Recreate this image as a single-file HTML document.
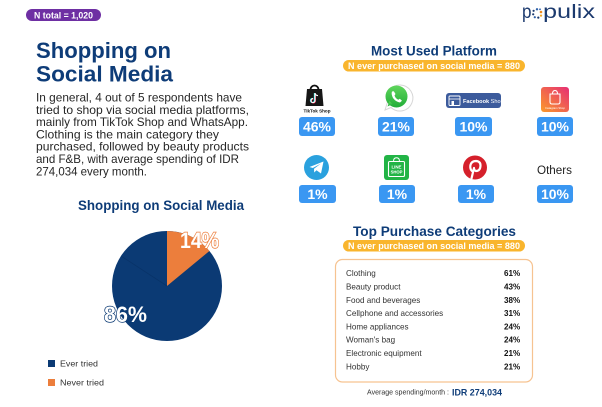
<!DOCTYPE html>
<html>
<head>
<meta charset="utf-8">
<style>
  html,body{margin:0;padding:0;background:#fff;}
  body{width:602px;height:407px;overflow:hidden;position:relative;}
  svg{position:absolute;left:0;top:0;}
  text{font-family:"Liberation Sans","DejaVu Sans",sans-serif;}
</style>
</head>
<body>
<svg width="602" height="407" viewBox="0 0 602 407" xmlns="http://www.w3.org/2000/svg">
  <defs>
    <linearGradient id="ig" x1="0" y1="1" x2="1" y2="0">
      <stop offset="0" stop-color="#fb9a2b"/>
      <stop offset="1" stop-color="#e62e74"/>
    </linearGradient>
    <linearGradient id="wa" x1="0" y1="0" x2="0" y2="1">
      <stop offset="0" stop-color="#5fd65c"/>
      <stop offset="1" stop-color="#22ad38"/>
    </linearGradient>
  </defs>

  <!-- N total badge -->
  <rect x="26" y="9" width="75" height="12" rx="6" fill="#6e2fa3"/>
  <text x="63.5" y="18.3" font-size="9" font-weight="bold" fill="#fff" text-anchor="middle" textLength="59" lengthAdjust="spacingAndGlyphs">N total = 1,020</text>

  <!-- Title -->
  <text x="36" y="58" font-size="22" font-weight="bold" fill="#0e3c78" textLength="135" lengthAdjust="spacingAndGlyphs">Shopping on</text>
  <text x="36" y="81.5" font-size="22" font-weight="bold" fill="#0e3c78" textLength="137" lengthAdjust="spacingAndGlyphs">Social Media</text>

  <!-- Paragraph -->
  <g font-size="11.6" fill="#262626">
    <text x="36" y="101.5" textLength="206" lengthAdjust="spacingAndGlyphs">In general, 4 out of 5 respondents have</text>
    <text x="36" y="113.8" textLength="213" lengthAdjust="spacingAndGlyphs">tried to shop via social media platforms,</text>
    <text x="36" y="126.1" textLength="212" lengthAdjust="spacingAndGlyphs">mainly from TikTok Shop and WhatsApp.</text>
    <text x="36" y="138.4" textLength="183" lengthAdjust="spacingAndGlyphs">Clothing is the main category they</text>
    <text x="36" y="150.7" textLength="213" lengthAdjust="spacingAndGlyphs">purchased, followed by beauty products</text>
    <text x="36" y="163.0" textLength="203" lengthAdjust="spacingAndGlyphs">and F&amp;B, with average spending of IDR</text>
    <text x="36" y="175.3" textLength="111" lengthAdjust="spacingAndGlyphs">274,034 every month.</text>
  </g>

  <!-- Pie subtitle -->
  <text x="161" y="209.8" font-size="13.5" font-weight="bold" fill="#0e3c78" text-anchor="middle" textLength="166" lengthAdjust="spacingAndGlyphs">Shopping on Social Media</text>

  <!-- Pie -->
  <circle cx="167" cy="286" r="55" fill="#0b3a74"/>
  <path d="M167,286 L167,231 A55,55 0 0 1 209.4,251 Z" fill="#ec7e3c"/>
  <line x1="167" y1="286" x2="121" y2="256" stroke="#072f62" stroke-width="0.8" opacity="0.6"/>
  <text x="180" y="248" font-size="22" font-weight="bold" fill="#fff" stroke="#ec7e3c" stroke-width="1.4" paint-order="stroke" textLength="39" lengthAdjust="spacingAndGlyphs">14%</text>
  <text x="104" y="322" font-size="22" font-weight="bold" fill="#fff" stroke="#0b3a74" stroke-width="1.4" paint-order="stroke" textLength="43" lengthAdjust="spacingAndGlyphs">86%</text>

  <!-- Legend -->
  <rect x="48" y="360" width="7" height="7" fill="#0b3a74"/>
  <text x="60" y="366.5" font-size="8.5" fill="#333" textLength="38" lengthAdjust="spacingAndGlyphs">Ever tried</text>
  <rect x="48" y="379" width="7" height="7" fill="#ec7e3c"/>
  <text x="60" y="385.5" font-size="8.5" fill="#333" textLength="44" lengthAdjust="spacingAndGlyphs">Never tried</text>

  <!-- Logo -->
  <text x="522" y="18" font-size="19" fill="#1c3a6e" textLength="9.5" lengthAdjust="spacingAndGlyphs">p</text>
  <g>
    <circle cx="537" cy="9.3" r="1.2" fill="#2d5fa8"/>
    <circle cx="533.6" cy="10.8" r="1.1" fill="#1c3a6e"/>
    <circle cx="533.2" cy="14.3" r="1.1" fill="#1c3a6e"/>
    <circle cx="534.8" cy="17.2" r="1.1" fill="#2d5fa8"/>
    <circle cx="538.3" cy="17.6" r="1.1" fill="#1c3a6e"/>
    <circle cx="541" cy="15.6" r="1.1" fill="#f4a521"/>
    <circle cx="541" cy="12" r="1.3" fill="#f08a1c"/>
    <circle cx="540" cy="9.3" r="0.9" fill="#2d5fa8"/>
  </g>
  <text x="543" y="18" font-size="19" fill="#1c3a6e" textLength="52" lengthAdjust="spacingAndGlyphs">pulix</text>

  <!-- Most Used Platform -->
  <text x="434" y="55.5" font-size="13.5" font-weight="bold" fill="#0e3c78" text-anchor="middle" textLength="126" lengthAdjust="spacingAndGlyphs">Most Used Platform</text>
  <rect x="343" y="60" width="182" height="11.5" rx="5.75" fill="#f9b52d"/>
  <text x="434" y="69" font-size="9" font-weight="bold" fill="#fff" text-anchor="middle" textLength="172" lengthAdjust="spacingAndGlyphs">N ever purchased on social media = 880</text>

  <!-- TikTok Shop icon -->
  <path d="M310.5,90 C310.5,84 318.5,84 318.5,90" fill="none" stroke="#111" stroke-width="1.8"/>
  <path d="M307,89 L322,89 L323.5,106 L305.5,106 Z" fill="#161616"/>
  <path d="M314.5,93 L314.5,100.5 A2,2 0 1 1 312.6,98.5" fill="none" stroke="#25f4ee" stroke-width="1.3"/>
  <path d="M315.3,93.3 L315.3,100.8 A2,2 0 1 1 313.4,98.8" fill="none" stroke="#fe2c55" stroke-width="1.3"/>
  <path d="M315,93 L315,100.6 A2,2 0 1 1 313,98.6 M315,93.2 Q315.6,95.5 318,95.6" fill="none" stroke="#fff" stroke-width="1.1"/>
  <text x="317" y="112.5" font-size="4.6" font-weight="bold" fill="#111" text-anchor="middle" textLength="27" lengthAdjust="spacingAndGlyphs">TikTok Shop</text>

  <!-- WhatsApp icon -->
  <path d="M385,110 L387.5,102 A13,13 0 1 1 391,107.5 Z" fill="#fff" stroke="#d6d6d6" stroke-width="1"/>
  <circle cx="396.5" cy="96.5" r="11" fill="url(#wa)"/>
  <path d="M387.5,106.5 L389.5,101 L392.5,104 Z" fill="url(#wa)"/>
  <path d="M392,91.5 Q391,94 393,98 Q396,102 400,102.5 L402,100.8 L399.8,98.8 L398.3,99.8 Q395.5,98.5 394.5,95.5 L395.5,94 L393.8,91.2 Z" fill="#fff"/>

  <!-- Facebook Shop -->
  <rect x="446" y="93" width="55" height="15" rx="3" fill="#3c5b9c"/>
  <rect x="449" y="96" width="11" height="9.5" rx="1" fill="none" stroke="#fff" stroke-width="0.9"/>
  <line x1="449" y1="99" x2="460" y2="99" stroke="#fff" stroke-width="0.8"/>
  <rect x="451.5" y="101" width="2.5" height="4.5" fill="#fff"/>
  <text x="463" y="102.8" font-size="5.6" font-weight="bold" fill="#fff">Facebook <tspan font-weight="normal">Shop</tspan></text>

  <!-- Instagram Shop -->
  <rect x="541" y="87" width="28" height="25" rx="3" fill="url(#ig)"/>
  <path d="M550,94 L560,94 L560,102 Q560,104 558,104 L552,104 Q550,104 550,102 Z" fill="none" stroke="#fff" stroke-width="1.1"/>
  <path d="M552.5,94 Q552.5,90.5 555,90.5 Q557.5,90.5 557.5,94" fill="none" stroke="#fff" stroke-width="1"/>
  <text x="555" y="109" font-size="2.8" fill="#fff" text-anchor="middle">Instagram Shop</text>

  <!-- Row 1 badges -->
  <g fill="#3a97f2">
    <rect x="299" y="117" width="36" height="19" rx="3"/>
    <rect x="378" y="117" width="36" height="19" rx="3"/>
    <rect x="455" y="117" width="37" height="19" rx="3"/>
    <rect x="537" y="117" width="36" height="19" rx="3"/>
  </g>
  <g font-size="14" font-weight="bold" fill="#fff" text-anchor="middle">
    <text x="317" y="131.6">46%</text>
    <text x="396" y="131.6">21%</text>
    <text x="473.5" y="131.6">10%</text>
    <text x="555" y="131.6">10%</text>
  </g>

  <!-- Telegram -->
  <circle cx="316.5" cy="167.5" r="12.5" fill="#2aa1de"/>
  <path d="M309.5,167 L323.5,161.5 L321,173.5 L316.5,170.3 L314.2,172.5 L314,168.8 L321,163.5 L312.8,168 Z" fill="#fff"/>

  <!-- LINE SHOP -->
  <rect x="384" y="155" width="25" height="25" rx="3" fill="#22b446"/>
  <rect x="388.5" y="161.5" width="16" height="15" rx="1.2" fill="none" stroke="#fff" stroke-width="1.1"/>
  <path d="M393.5,161.5 Q393.5,157.8 396.5,157.8 Q399.5,157.8 399.5,161.5" fill="none" stroke="#fff" stroke-width="1"/>
  <text x="396.5" y="168.3" font-size="4.4" font-weight="bold" fill="#fff" text-anchor="middle">LINE</text>
  <text x="396.5" y="173.6" font-size="4.2" font-weight="bold" fill="#fff" text-anchor="middle">SHOP</text>

  <!-- Pinterest -->
  <circle cx="475" cy="167.5" r="12" fill="#d5202b"/>
  <path d="M471.5,178.5 L474,168 M472.8,171.5 Q470,170 470.3,166 Q471,161 476,161 Q480.5,161.3 480.5,165.5 Q480.3,171 476,171 Q474.5,170.8 474.2,169" fill="none" stroke="#fff" stroke-width="2.2" stroke-linecap="round"/>

  <!-- Others -->
  <text x="554.5" y="174.2" font-size="11.5" fill="#222" text-anchor="middle" textLength="35" lengthAdjust="spacingAndGlyphs">Others</text>

  <!-- Row 2 badges -->
  <g fill="#3a97f2">
    <rect x="299" y="185" width="37" height="18" rx="3"/>
    <rect x="379" y="185" width="36" height="18" rx="3"/>
    <rect x="458" y="185" width="36" height="18" rx="3"/>
    <rect x="537" y="185" width="36" height="18" rx="3"/>
  </g>
  <g font-size="14" font-weight="bold" fill="#fff" text-anchor="middle">
    <text x="317.5" y="199">1%</text>
    <text x="397" y="199">1%</text>
    <text x="476" y="199">1%</text>
    <text x="555" y="199">10%</text>
  </g>

  <!-- Top Purchase Categories -->
  <text x="434.5" y="236" font-size="13.5" font-weight="bold" fill="#0e3c78" text-anchor="middle" textLength="163" lengthAdjust="spacingAndGlyphs">Top Purchase Categories</text>
  <rect x="343" y="240" width="182" height="11.5" rx="5.75" fill="#f9b52d"/>
  <text x="434" y="249" font-size="9" font-weight="bold" fill="#fff" text-anchor="middle" textLength="172" lengthAdjust="spacingAndGlyphs">N ever purchased on social media = 880</text>

  <rect x="335.5" y="259.5" width="197" height="122.5" rx="7" fill="none" stroke="#f6c391" stroke-width="1.2"/>
  <g font-size="8.1" fill="#333">
    <text x="346" y="276.2">Clothing</text>
    <text x="346" y="289.5">Beauty product</text>
    <text x="346" y="302.8">Food and beverages</text>
    <text x="346" y="316.1">Cellphone and accessories</text>
    <text x="346" y="329.4">Home appliances</text>
    <text x="346" y="342.7">Woman's bag</text>
    <text x="346" y="356.0">Electronic equipment</text>
    <text x="346" y="369.3">Hobby</text>
  </g>
  <g font-size="8.1" font-weight="bold" fill="#111">
    <text x="504" y="276.2">61%</text>
    <text x="504" y="289.5">43%</text>
    <text x="504" y="302.8">38%</text>
    <text x="504" y="316.1">31%</text>
    <text x="504" y="329.4">24%</text>
    <text x="504" y="342.7">24%</text>
    <text x="504" y="356.0">21%</text>
    <text x="504" y="369.3">21%</text>
  </g>

  <text x="367" y="394.5" font-size="7" fill="#333" textLength="82" lengthAdjust="spacingAndGlyphs">Average spending/month :</text>
  <text x="452" y="395.5" font-size="9.5" font-weight="bold" fill="#0e3c78" textLength="50" lengthAdjust="spacingAndGlyphs">IDR 274,034</text>
</svg>
</body>
</html>
